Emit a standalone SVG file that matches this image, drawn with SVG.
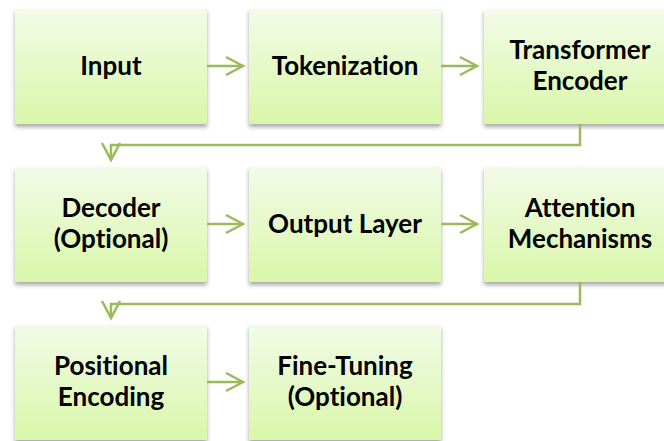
<svg xmlns="http://www.w3.org/2000/svg" width="664" height="441" viewBox="0 0 664 441">
<defs>
<linearGradient id="g" x1="0" y1="0" x2="0" y2="1">
<stop offset="0" stop-color="#f2fbe8"/>
<stop offset="1" stop-color="#d9f7a9"/>
</linearGradient>
<filter id="sh" x="-10%" y="-10%" width="120%" height="125%">
<feDropShadow dx="0" dy="3" stdDeviation="2" flood-color="#000" flood-opacity="0.35"/>
</filter>
<marker id="ah" markerUnits="userSpaceOnUse" markerWidth="24" markerHeight="24" viewBox="-20 -12 24 24" refX="0" refY="0" orient="auto">
<path d="M-17,-9 L0,0 L-17,9" fill="none" stroke="#9bbb59" stroke-width="2.5"/>
</marker>
<style>
.box{fill:url(#g);filter:url(#sh);}
.t{font-family:Lato,"Liberation Sans",sans-serif;font-weight:bold;font-size:26px;fill:#000;text-anchor:middle;font-variant-ligatures:none;}
.c{fill:none;stroke:#9bbb59;stroke-width:2.5;}
</style>
</defs>
<rect width="664" height="441" fill="#fff"/>
<g id="n-input"><rect class="box" x="15" y="9" width="192" height="115"/><text class="t" x="111" y="75">Input</text></g>
<g id="n-token"><rect class="box" x="249" y="9" width="192" height="115"/><text class="t" x="345" y="75">Tokenization</text></g>
<g id="n-encoder"><rect class="box" x="484" y="9" width="192" height="115"/><text class="t" x="580" y="59">Transformer</text><text class="t" x="580" y="90">Encoder</text></g>
<g id="n-decoder"><rect class="box" x="15" y="167" width="192" height="115"/><text class="t" x="111" y="217">Decoder</text><text class="t" x="111" y="248">(Optional)</text></g>
<g id="n-output"><rect class="box" x="249" y="167" width="192" height="115"/><text class="t" x="345" y="233">Output Layer</text></g>
<g id="n-attention"><rect class="box" x="484" y="167" width="192" height="115"/><text class="t" x="580" y="217">Attention</text><text class="t" x="580" y="248">Mechanisms</text></g>
<g id="n-positional"><rect class="box" x="15" y="325" width="192" height="115"/><text class="t" x="111" y="375">Positional</text><text class="t" x="111" y="406">Encoding</text></g>
<g id="n-finetune"><rect class="box" x="249" y="325" width="192" height="115"/><text class="t" x="345" y="375">Fine-Tuning</text><text class="t" x="345" y="406">(Optional)</text></g>
<g id="connectors">
<path class="c" d="M207,66 H243" marker-end="url(#ah)"/>
<path class="c" d="M441,66 H477" marker-end="url(#ah)"/>
<path class="c" d="M580,124 V145 H111 V160" marker-end="url(#ah)"/>
<path class="c" d="M207,224 H243" marker-end="url(#ah)"/>
<path class="c" d="M441,224 H477" marker-end="url(#ah)"/>
<path class="c" d="M580,282 V304 H111 V318" marker-end="url(#ah)"/>
<path class="c" d="M207,382 H243" marker-end="url(#ah)"/>
</g>
</svg>
